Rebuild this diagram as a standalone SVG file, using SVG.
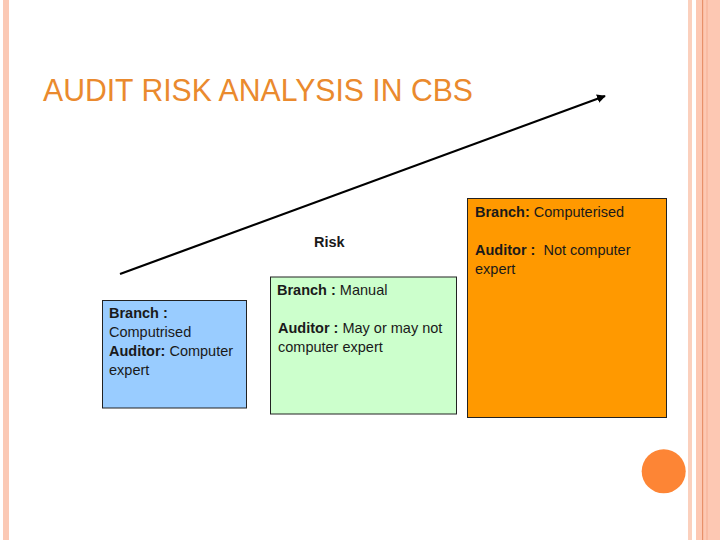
<svg xmlns="http://www.w3.org/2000/svg" width="720" height="540" viewBox="0 0 720 540">
  <style>
    .t { font-family: "Liberation Sans", Arial, sans-serif; font-size: 14.5px; fill: #1a1a1a; }
    .b { font-weight: bold; }
    .box { stroke: #222; stroke-width: 1; }
  </style>
  <defs>
    <marker id="arr" viewBox="0 0 10 10" refX="9" refY="5" markerWidth="4" markerHeight="4" orient="auto">
      <path d="M0,0 L10,5 L0,10 z" fill="#000"/>
    </marker>
  </defs>
  <rect width="720" height="540" fill="#fff"/>
  <g id="frame">
    <rect x="3" y="0" width="6" height="540" fill="#fbc9b5"/>
    <rect x="688" y="0" width="4" height="540" fill="#fbd0bd"/>
    <rect x="696" y="0" width="24" height="540" fill="#fdc8b3"/>
    <rect x="702" y="0" width="1.2" height="540" fill="#e8906a"/>
    <rect x="706" y="0" width="2" height="540" fill="#f9bba3"/>
  </g>
  <text x="43" y="101" font-family="Liberation Sans, Arial, sans-serif" font-size="31" fill="#ea8a2e" textLength="430" lengthAdjust="spacingAndGlyphs">AUDIT RISK ANALYSIS IN CBS</text>
  <g id="connectors">
    <line x1="120" y1="274" x2="605" y2="96" stroke="#000" stroke-width="2.2" marker-end="url(#arr)"/>
  </g>
  <g id="risk">
    <text class="t b" x="314" y="247" font-size="16">Risk</text>
  </g>
  <g id="box-blue">
    <rect class="box" x="102.5" y="300.5" width="144" height="107.5" fill="#99ccff"/>
    <text class="t" x="109" y="318"><tspan class="b">Branch :</tspan></text>
    <text class="t" x="109" y="337">Computrised</text>
    <text class="t" x="109" y="356"><tspan class="b">Auditor:</tspan> Computer</text>
    <text class="t" x="109" y="375">expert</text>
  </g>
  <g id="box-green">
    <rect class="box" x="270.5" y="277" width="186" height="137" fill="#ccffcc"/>
    <text class="t" x="277" y="295"><tspan class="b">Branch :</tspan> Manual</text>
    <text class="t" x="278" y="333"><tspan class="b">Auditor :</tspan> May or may not</text>
    <text class="t" x="278" y="352">computer expert</text>
  </g>
  <g id="box-orange">
    <rect class="box" x="467.5" y="198.5" width="199" height="219" fill="#ff9900"/>
    <text class="t" x="475" y="217"><tspan class="b">Branch:</tspan> Computerised</text>
    <text class="t" x="475" y="255" style="white-space:pre"><tspan class="b">Auditor :</tspan>  Not computer</text>
    <text class="t" x="475" y="274">expert</text>
  </g>
  <circle cx="663.7" cy="471.3" r="22" fill="#fd8535"/>
</svg>
